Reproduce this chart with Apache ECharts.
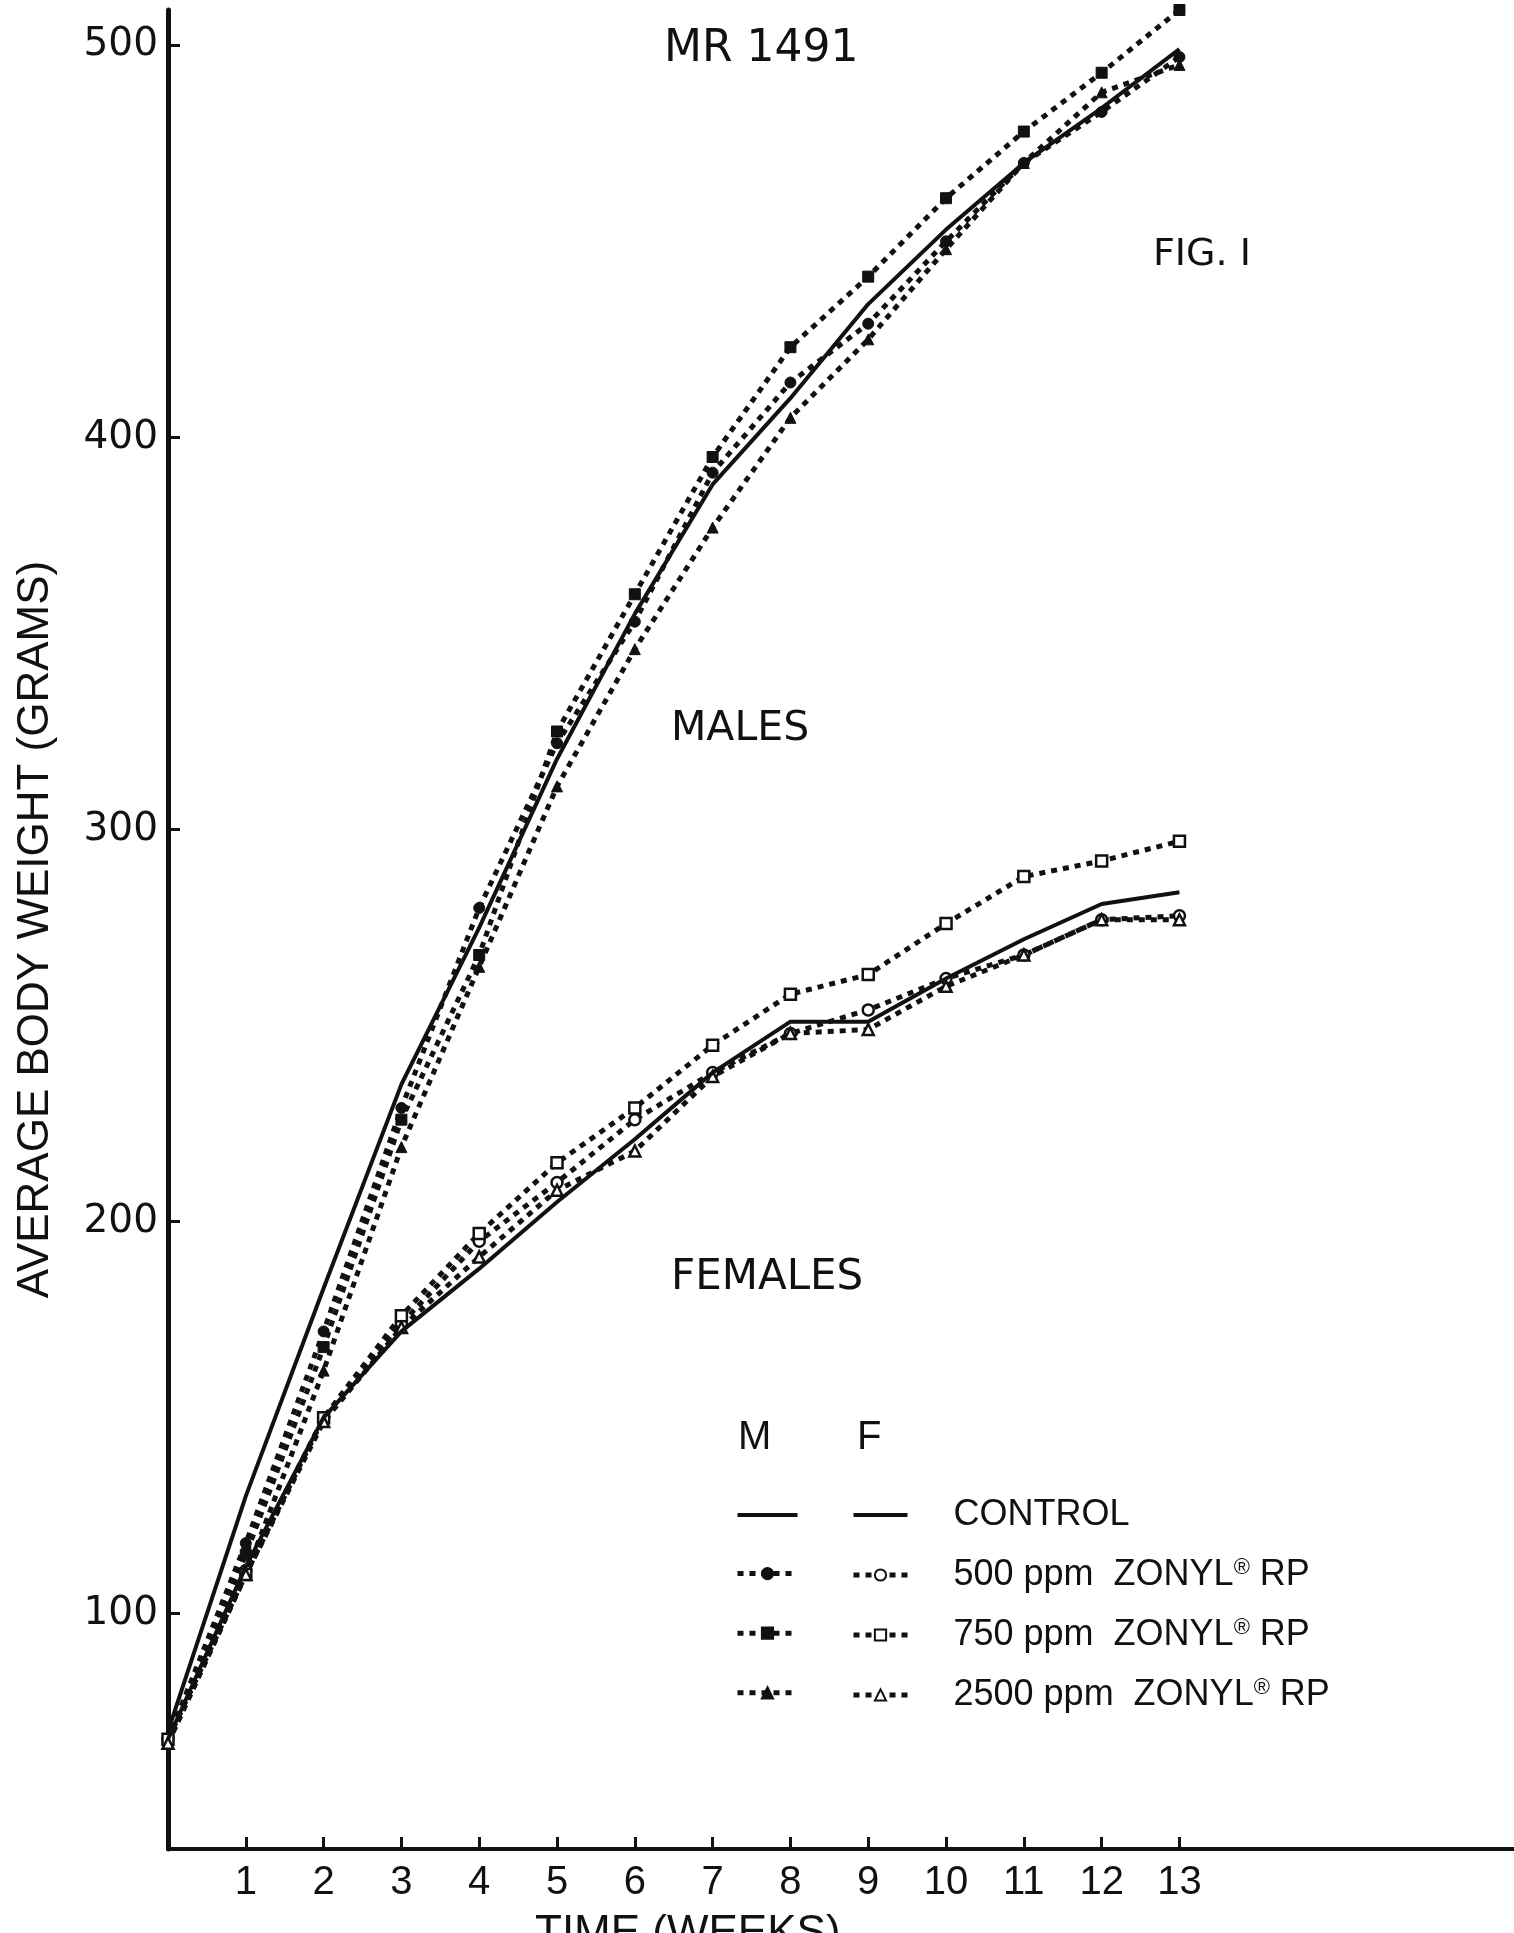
<!DOCTYPE html>
<html>
<head>
<meta charset="utf-8">
<script src="https://cdn.jsdelivr.net/npm/echarts@6/dist/echarts.min.js"></script>
<style>
html,body{margin:0;padding:0;background:#fff;}
#chart{width:1514px;height:1933px;}
</style>
</head>
<body>
<div id="chart"></div>
<script>
// ---- data (weeks on test, average body weight in grams) ----
var weeks = [0, 1, 2, 3, 4, 5, 6, 7, 8, 9, 10, 11, 12, 13];
var xTickValues = [1, 2, 3, 4, 5, 6, 7, 8, 9, 10, 11, 12, 13];
var yTickValues = [100, 200, 300, 400, 500];

var maleControl = [70, 130, 183, 235, 275, 318, 355, 388, 410, 434, 453, 470, 484, 499];
var male500     = [68, 118, 172, 229, 280, 322, 353, 391, 414, 429, 450, 470, 483, 497];
var male750     = [68, 115, 168, 226, 268, 325, 360, 395, 423, 441, 461, 478, 493, 509];
var male2500    = [67, 110, 162, 219, 265, 311, 346, 377, 405, 425, 448, 470, 488, 495];

var femaleControl = [68, 112, 150, 172, 188, 205, 221, 238, 251, 251, 262, 272, 281, 284];
var female500     = [68, 111, 150, 174, 195, 210, 226, 238, 248, 254, 262, 268, 277, 278];
var female750     = [68, 110, 150, 176, 197, 215, 229, 245, 258, 263, 276, 288, 292, 297];
var female2500    = [67, 110, 149, 173, 191, 208, 218, 237, 248, 249, 260, 268, 277, 277];

var maleNames = ['M Control', 'M 500', 'M 750', 'M 2500'];
var femaleNames = ['F Control', 'F 500', 'F 750', 'F 2500'];
var legendLabels = {
  'F Control': 'CONTROL',
  'F 500': '500 ppm  ZONYL{r|®} RP',
  'F 750': '750 ppm  ZONYL{r|®} RP',
  'F 2500': '2500 ppm  ZONYL{r|®} RP'
};

var INK = '#111';
var DOTS = [6, 6];
function pairs(arr){ return weeks.map(function(w,i){ return [w, arr[i]]; }); }

function solidSeries(name, arr){
  return {
    name: name, type: 'line', data: pairs(arr), symbol: 'none',
    lineStyle: {color: INK, width: 4, type: 'solid'},
    itemStyle: {color: 'rgba(0,0,0,0)'},
    z: 3
  };
}
function dotSeries(name, arr, sym, filled){
  return {
    name: name, type: 'line', data: pairs(arr), symbol: sym, symbolSize: 11,
    showSymbol: true,
    lineStyle: {color: INK, width: 5, type: DOTS, cap: 'butt'},
    itemStyle: filled ? {color: INK, borderColor: INK, borderWidth: 1}
                      : {color: '#fff', borderColor: INK, borderWidth: 2.5},
    z: 2
  };
}
function legendData(names){
  return names.map(function(n, i){
    return {name: n, lineStyle: i === 0 ? {width: 4, type: 'solid', color: INK}
                                         : {width: 5, type: DOTS, color: INK}};
  });
}

var chart = echarts.init(document.getElementById('chart'), null, {renderer: 'canvas'});
var option = {
  animation: false,
  backgroundColor: '#fff',
  grid: {left: 168, right: 0, top: 10, bottom: 84},
  xAxis: {
    type: 'value', min: 0, max: 17.3,
    axisLine: {show: true, lineStyle: {color: INK, width: 4}},
    axisTick: {show: true, inside: true, length: 12, customValues: xTickValues, lineStyle: {color: INK, width: 3}},
    axisLabel: {customValues: xTickValues, margin: 14, fontSize: 40, color: INK,
      fontFamily: '"Liberation Sans Narrow", "Liberation Sans", sans-serif'},
    splitLine: {show: false}
  },
  yAxis: {
    type: 'value', min: 40, max: 509,
    name: 'AVERAGE BODY WEIGHT (GRAMS)', nameLocation: 'middle', nameRotate: 90, nameGap: 110,
    nameTextStyle: {fontSize: 44, color: INK, fontFamily: '"Liberation Sans", sans-serif'},
    axisLine: {show: true, lineStyle: {color: INK, width: 5}},
    axisTick: {show: true, inside: true, length: 12, customValues: yTickValues, lineStyle: {color: INK, width: 3}},
    axisLabel: {customValues: yTickValues, margin: 10, fontSize: 39, color: INK,
      fontFamily: '"DejaVu Sans", sans-serif'},
    splitLine: {show: false}
  },
  legend: [
    {
      data: legendData(maleNames),
      orient: 'vertical', left: 730, top: 1503, itemWidth: 60, itemHeight: 14, itemGap: 46,
      selectedMode: false, formatter: function(){ return ''; }
    },
    {
      data: legendData(femaleNames),
      orient: 'vertical', left: 846, top: 1492, itemWidth: 54, itemHeight: 14, itemGap: 24,
      selectedMode: false,
      formatter: function(n){ return legendLabels[n]; },
      textStyle: {fontSize: 36, lineHeight: 36, color: INK, padding: [0, 0, 0, 41],
        fontFamily: '"Liberation Sans", sans-serif',
        rich: {r: {fontSize: 22, lineHeight: 22, verticalAlign: 'top', color: INK,
          fontFamily: '"Liberation Sans", sans-serif'}}}
    }
  ],
  graphic: [
    {type: 'text', left: 664, top: 28, style: {text: 'MR 1491', fontSize: 44, fill: INK, fontFamily: '"DejaVu Sans", sans-serif'}},
    {type: 'text', left: 1153, top: 236, style: {text: 'FIG. I', fontSize: 38, fill: INK, fontFamily: '"DejaVu Sans", sans-serif'}},
    {type: 'text', left: 671, top: 709, style: {text: 'MALES', fontSize: 41, fill: INK, fontFamily: '"DejaVu Sans", sans-serif'}},
    {type: 'text', left: 671, top: 1257, style: {text: 'FEMALES', fontSize: 42, fill: INK, fontFamily: '"DejaVu Sans", sans-serif'}},
    {type: 'text', left: 738, top: 1418, style: {text: 'M', fontSize: 40, fill: INK, fontFamily: '"Liberation Sans", sans-serif'}},
    {type: 'text', left: 857, top: 1418, style: {text: 'F', fontSize: 40, fill: INK, fontFamily: '"Liberation Sans", sans-serif'}},
    {type: 'text', left: 535, top: 1912, style: {text: 'TIME (WEEKS)', fontSize: 44, fill: INK, fontFamily: '"Liberation Sans", sans-serif'}}
  ],
  series: [
    solidSeries('M Control', maleControl),
    dotSeries('M 500', male500, 'circle', true),
    dotSeries('M 750', male750, 'rect', true),
    dotSeries('M 2500', male2500, 'triangle', true),
    solidSeries('F Control', femaleControl),
    dotSeries('F 500', female500, 'circle', false),
    dotSeries('F 750', female750, 'rect', false),
    dotSeries('F 2500', female2500, 'triangle', false)
  ]
};
chart.setOption(option);
</script>
</body>
</html>
